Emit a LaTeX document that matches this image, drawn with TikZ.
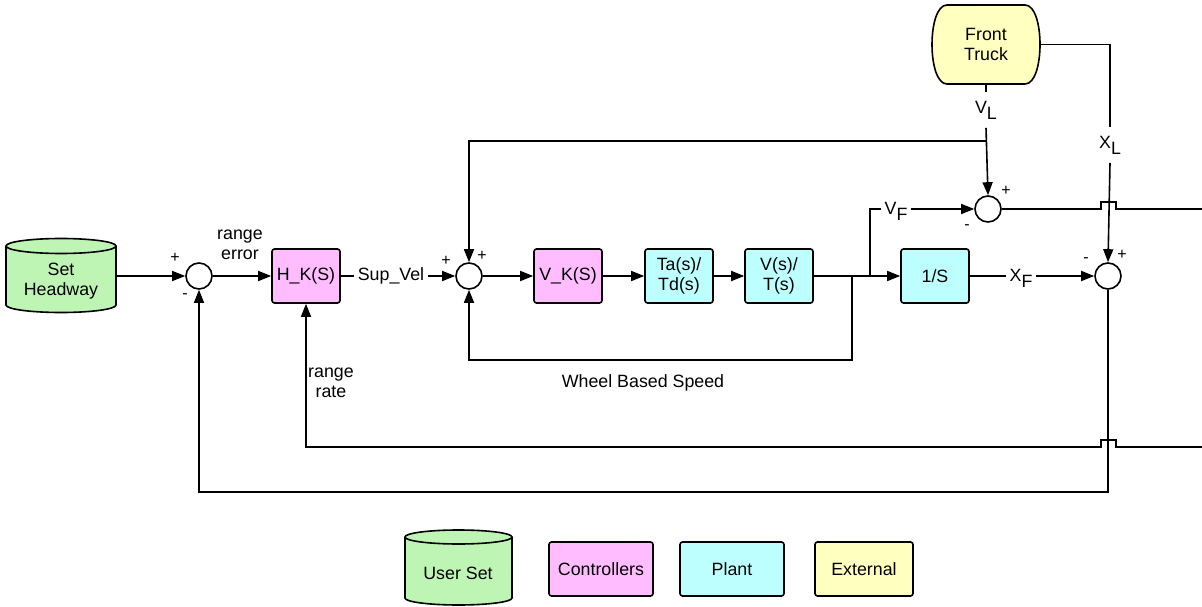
\documentclass[tikz,border=0pt]{standalone}
\usepackage{fontspec}
\setmainfont{Liberation Sans}
\usetikzlibrary{arrows.meta}
\definecolor{ctrlpink}{HTML}{FFBDFF}
\definecolor{plantcyan}{HTML}{BDFFFF}
\definecolor{usergreen}{HTML}{BFF5B4}
\definecolor{extyellow}{HTML}{FFFFBF}

% drum (cylinder) outline: #1 left x, #2 right x, #3 top ellipse y, #4 bottom ellipse y, #5 ellipse half-height
\newcommand\drumshape[5]{%
  \filldraw[fill=usergreen] ({((#1)+(#2))/2},#4) ellipse [x radius={((#2)-(#1))/2*1pt}, y radius=#5pt];
  \fill[usergreen] (#1,#3) rectangle (#2,#4);
  \draw (#1,#3) -- (#1,#4) (#2,#3) -- (#2,#4);
  \filldraw[fill=usergreen] ({((#1)+(#2))/2},#3) ellipse [x radius={((#2)-(#1))/2*1pt}, y radius=#5pt];
}

\begin{document}
\begin{tikzpicture}[x=1pt,y=-1pt, line width=1.6pt,
  >={Triangle[length=13pt,width=10pt]},
  every node/.style={font=\fontsize{17.8}{20.5}\selectfont, align=center},
  blk/.style={draw, rounded corners=2.5pt, minimum width=68pt, minimum height=54pt, inner sep=0pt},
  ctrl/.style={blk, fill=ctrlpink},
  plant/.style={blk, fill=plantcyan},
  legbox/.style={draw, rounded corners=2.5pt, minimum width=104pt, minimum height=54pt, inner sep=0pt},
  sumj/.style={draw, circle, minimum size=26pt, inner sep=0pt, fill=white},
  sgn/.style={font=\fontsize{16}{16}\selectfont, inner sep=0pt},
  lbl/.style={inner sep=3pt}]
\useasboundingbox (0,0) rectangle (1202,607);

% ---------- user set point ----------
\drumshape{6}{116}{246}{305}{7.5}
\node[minimum width=110pt, minimum height=50pt, inner sep=0pt] (sh) at (61,281) {Set\\Headway};

% ---------- front truck (external) ----------
\filldraw[fill=extyellow] (947,5) -- (1025,5) .. controls (1045,5) and (1045,84) .. (1025,84)
  -- (947,84) .. controls (927,84) and (927,5) .. (947,5) -- cycle;
\node[minimum width=108pt, minimum height=79pt, inner sep=0pt] (ft) at (986,44.5) {Front\\Truck};

% ---------- blocks and summing junctions ----------
\node[sumj] (s1) at (199,276) {};
\node[ctrl] (hk) at (306,276) {H\_K(S)};
\node[lbl] (sv) at (391,276) {Sup\_Vel};
\node[sumj] (s2) at (469,276) {};
\node[ctrl] (vk) at (568,276) {V\_K(S)};
\node[plant] (ta) at (679,276) {Ta(s)/\\Td(s)};
\node[plant] (vt) at (779,276) {V(s)/\\T(s)};
\node[plant] (is) at (935,276) {1/S};
\node[sumj] (s3) at (988,209) {};
\node[sumj] (s4) at (1108,276) {};

% signal labels
\node[lbl] (vf) at (896,211) {V\raisebox{-6pt}{F}};
\node[lbl] (xf) at (1021,278) {X\raisebox{-6pt}{F}};
\node[inner sep=8pt] (vl) at (986,110) {V\raisebox{-6pt}{L}};
\node[inner sep=8pt] (xl) at (1110,145) {X\raisebox{-6pt}{L}};
\node (re) at (240,245) {range\\error};
\node (rr) at (331,383) {range\\rate};
\node (wb) at (643,383) {Wheel Based Speed};

% signs at the junctions
\node[sgn] (p1) at (175,258) {+};
\node[sgn] (m1) at (185,296) {-};
\node[sgn] (p2) at (446,261) {+};
\node[sgn] (p3) at (482,256) {+};
\node[sgn] (p4) at (1006,191) {+};
\node[sgn] (m3) at (967,227) {-};
\node[sgn] (m4) at (1086,260) {-};
\node[sgn] (p5) at (1122,255) {+};

% branch points and off-page ends
\coordinate (j1) at (852,276);
\coordinate (j2) at (870,276);
\coordinate (j3) at (986,141);
\coordinate (r1) at (1202,209);
\coordinate (r2) at (1202,447);

% ---------- forward path ----------
\draw[->] (sh.east |- s1.west) -- (s1.west);
\draw[->] (s1.east) -- (hk.west);
\draw (hk.east) -- (sv.west);
\draw[->] (sv.east) -- (s2.west);
\draw[->] (s2.east) -- (vk.west);
\draw[->] (vk.east) -- (ta.west);
\draw[->] (ta.east) -- (vt.west);
\draw[->] (vt.east) -- (is.west);
\draw (is.east) -- (xf.west |- s4.west);
\draw[->] (xf.east |- s4.west) -- (s4.west);

% wheel based speed loop
\draw[->] (j1) -- (852,360) -| (s2.south);

% follower speed to speed comparison
\draw (j2) |- (vf.west |- s3.west);
\draw[->] (vf.east |- s3.west) -- (s3.west);

% lead speed
\draw (ft.south) -- (vl.north);
\draw[->] (vl.south) -- (s3.north);
\draw[->] (j3) -| (s2.north);

% lead position
\draw (ft.east) -| (xl.north);
\draw[->] (xl.south) -- (s4.north);

% range rate output, hopping over the range line
\draw (s3.east) -- (1101,209) -- (1101,202) -- (1116,202) -- (1116,209) -- (r1);
\draw[->] (r2) -- (1116,447) -- (1116,440) -- (1101,440) -- (1101,447) -| (hk.south);

% range feedback
\draw[->] (s4.south) -- (1108,492) -| (s1.south);

% ---------- legend ----------
\drumshape{405}{512}{537}{598}{7}
\node[minimum width=107pt, minimum height=50pt, inner sep=0pt] (lu) at (458,573) {User Set};
\node[legbox, fill=ctrlpink] (lc) at (601,569) {Controllers};
\node[legbox, fill=plantcyan] (lp) at (732,569) {Plant};
\node[legbox, fill=extyellow, minimum width=98pt] (le) at (864,569) {External};
\end{tikzpicture}
\end{document}
